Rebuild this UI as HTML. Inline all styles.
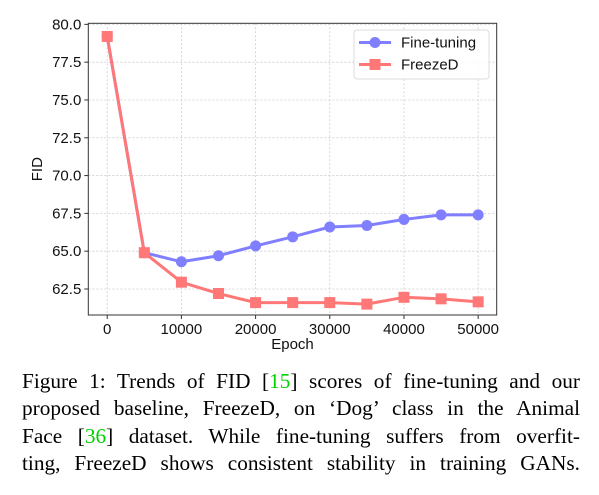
<!DOCTYPE html>
<html><head><meta charset="utf-8"><style>
body{margin:0;background:#fff;width:599px;height:495px;overflow:hidden;}
svg{position:absolute;left:0;top:0;}
.cap{position:absolute;left:22px;top:368px;width:558px;font-family:"Liberation Serif",serif;font-size:21.3px;line-height:27.3px;color:#000;}
.cap div{text-align:justify;text-align-last:justify;white-space:nowrap;}
.g{color:#00d000;}
</style></head><body>
<svg width="599" height="360" font-family="Liberation Sans, DejaVu Sans, sans-serif">
<g id="grid"></g><g id="axes"></g><g id="series"></g><g id="legend"></g>
</svg>
<div class="cap">
<div>Figure 1: Trends of FID [<span class="g">15</span>] scores of fine-tuning and our</div>
<div>proposed baseline, FreezeD, on ‘Dog’ class in the Animal</div>
<div>Face [<span class="g">36</span>] dataset. While fine-tuning suffers from overfit-</div>
<div>ting, FreezeD shows consistent stability in training GANs.</div>
</div>
<script>
const epochs=[0,5000,10000,15000,20000,25000,30000,35000,40000,45000,50000];
const fineTuning=[79.2,64.9,64.3,64.7,65.35,65.95,66.6,66.7,67.1,67.4,67.4];
const freezeD=[79.2,64.9,62.95,62.2,61.6,61.6,61.6,61.5,61.95,61.85,61.65];
const xTicks=[0,10000,20000,30000,40000,50000];
const yTicks=[62.5,65.0,67.5,70.0,72.5,75.0,77.5,80.0];
const NS='http://www.w3.org/2000/svg';
const L=88.3,R=496.7,T=23.3,B=315;
const xMin=-2550,xMax=52500,yMin=60.78,yMax=80.07;
const X=v=>L+(v-xMin)/(xMax-xMin)*(R-L);
const Y=v=>B-(v-yMin)/(yMax-yMin)*(B-T);
function mk(tag,attrs,parent){const e=document.createElementNS(NS,tag);for(const k in attrs)e.setAttribute(k,attrs[k]);parent.appendChild(e);return e;}
const grid=document.getElementById('grid'),axes=document.getElementById('axes'),ser=document.getElementById('series'),leg=document.getElementById('legend');
xTicks.forEach(t=>{const x=X(t);
 let l=mk('line',{x1:x,x2:x,y1:T,y2:B,stroke:'#ccc','stroke-width':0.8,'stroke-dasharray':'2,2'},grid);
 
 mk('line',{x1:x,x2:x,y1:B,y2:B+4,stroke:'#333'},axes);
 let tx=mk('text',{x:x,y:B+19,'text-anchor':'middle','font-size':15,fill:'#111'},axes);tx.textContent=t;
 });
yTicks.forEach(t=>{const y=Y(t);
 let l=mk('line',{x1:L,x2:R,y1:y,y2:y,stroke:'#ccc','stroke-width':0.8,'stroke-dasharray':'2,2'},grid);
 
 mk('line',{x1:L-4,x2:L,y1:y,y2:y,stroke:'#333'},axes);
 let tx=mk('text',{x:L-7,y:y+5,'text-anchor':'end','font-size':15,fill:'#111'},axes);tx.textContent=t.toFixed(1);
 });
let fr=mk('rect',{x:L,y:T,width:R-L,height:B-T,fill:'none',stroke:'#333','stroke-width':1},axes);

let xt=mk('text',{x:(L+R)/2,y:349,'text-anchor':'middle','font-size':15,fill:'#111'},axes);xt.textContent='Epoch';

let yt=mk('text',{x:0,y:0,transform:`translate(${42},${(T+B)/2}) rotate(-90)`,'text-anchor':'middle','font-size':15,fill:'#111'},axes);yt.textContent='FID';

function drawSeries(vals,color,shape,name){
 const g=mk('g',{},ser);
 let p=mk('polyline',{points:vals.map((v,i)=>X(epochs[i])+','+Y(v)).join(' '),fill:'none',stroke:color,'stroke-width':3,'stroke-linejoin':'round'},g);
 
 vals.forEach((v,i)=>{let m;
  if(shape==='c')m=mk('circle',{cx:X(epochs[i]),cy:Y(v),r:5.5,fill:color},g);
  else m=mk('rect',{x:X(epochs[i])-5.5,y:Y(v)-5.5,width:11,height:11,fill:color},g);
  });
}
drawSeries(fineTuning,'#7f7fff','c','fine-tuning');
drawSeries(freezeD,'#ff7777','s','freezed');
let lb=mk('rect',{x:354,y:30,width:135,height:49,rx:3,fill:'#fff','fill-opacity':0.85,stroke:'#ddd'},leg);

[['Fine-tuning','#7f7fff','c',42.5],['FreezeD','#ff7777','s',64.5]].forEach(([n,c,s,y])=>{
 const g=mk('g',{},leg);
 mk('line',{x1:359,x2:391,y1:y,y2:y,stroke:c,'stroke-width':3},g);
 if(s==='c')mk('circle',{cx:375,cy:y,r:5.5,fill:c},g);else mk('rect',{x:369.5,y:y-5.5,width:11,height:11,fill:c},g);
 const t=mk('text',{x:401,y:y+5,'font-size':15,fill:'#111'},g);t.textContent=n;});
</script>
</body></html>
